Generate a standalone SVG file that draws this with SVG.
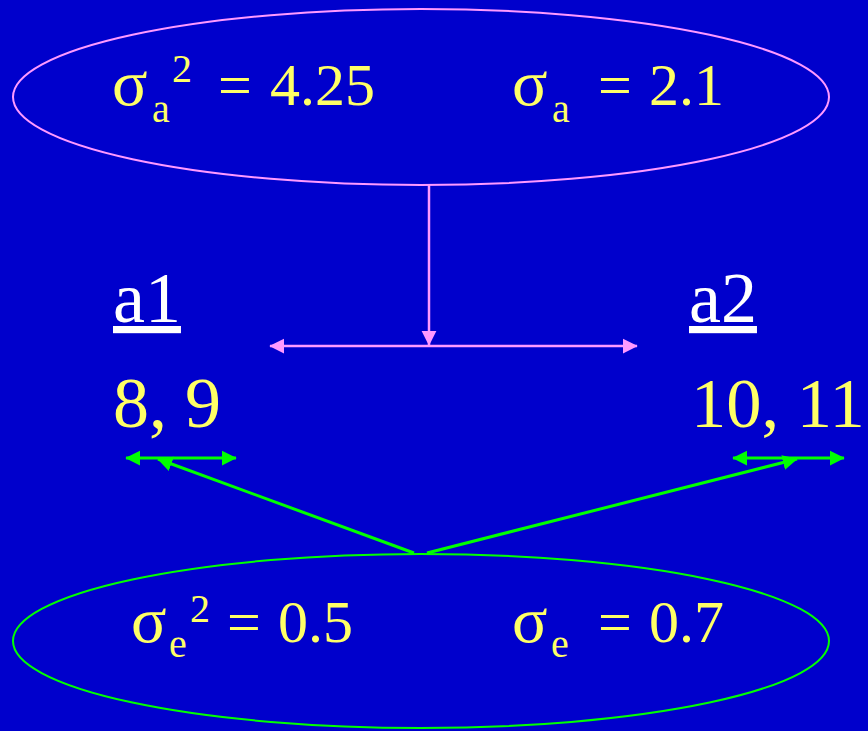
<svg xmlns="http://www.w3.org/2000/svg" width="868" height="731" viewBox="0 0 868 731">
<style>
  .t{font-family:"Liberation Serif","Times New Roman",serif;fill:#FFFF66;font-size:60px}
  .g{font-size:66px}
  .s{font-size:40px}
  .w{font-family:"Liberation Serif","Times New Roman",serif;fill:#FFFFFF;font-size:72px;text-decoration:underline}
  .v{font-family:"Liberation Serif","Times New Roman",serif;fill:#FFFF66;font-size:72px}
  .pink{stroke:#FF99FF;stroke-width:2.5;fill:none}
  .green{stroke:#00FF00;stroke-width:3;fill:none}
</style>
<defs>
  <marker id="ap" viewBox="0 0 10 10" refX="9.5" refY="5" markerUnits="userSpaceOnUse" markerWidth="15" markerHeight="16" orient="auto-start-reverse">
    <path d="M0,0 L10,5 L0,10 z" fill="#FF99FF"/>
  </marker>
  <marker id="ag" viewBox="0 0 10 10" refX="9.5" refY="5" markerUnits="userSpaceOnUse" markerWidth="15" markerHeight="16" orient="auto-start-reverse">
    <path d="M0,0 L10,5 L0,10 z" fill="#00FF00"/>
  </marker>
</defs>
<rect width="868" height="731" fill="#0000CC"/>

<g id="sigma-a">
  <ellipse cx="421" cy="97" rx="408" ry="88" fill="none" stroke="#FF99FF" stroke-width="2"/>
  <text class="t g" x="112" y="105">σ</text>
  <text class="t s" x="152" y="122">a</text>
  <text class="t s" x="172" y="82">2</text>
  <text class="t" x="218" y="105">=</text>
  <text class="t" x="270" y="105">4.25</text>
  <text class="t g" x="512" y="105">σ</text>
  <text class="t s" x="552" y="122">a</text>
  <text class="t" x="598" y="105">=</text>
  <text class="t" x="649" y="105">2.1</text>
</g>

<g id="a1">
  <text class="w" x="113" y="322">a1</text>
  <text class="v" x="113" y="427">8, 9</text>
</g>

<g id="a2">
  <text class="w" x="689" y="322">a2</text>
  <text class="v" x="691" y="427" style="font-size:70.5px">10, 11</text>
</g>

<g id="sigma-e">
  <ellipse cx="421" cy="641" rx="408" ry="87" fill="none" stroke="#00FF00" stroke-width="2"/>
  <text class="t g" x="131" y="642">σ</text>
  <text class="t s" x="169" y="657">e</text>
  <text class="t s" x="190" y="622">2</text>
  <text class="t" x="227" y="642">=</text>
  <text class="t" x="278" y="642">0.5</text>
  <text class="t g" x="512" y="642">σ</text>
  <text class="t s" x="551" y="657">e</text>
  <text class="t" x="598" y="642">=</text>
  <text class="t" x="649" y="642">0.7</text>
</g>

<g id="connectors">
  <line class="pink" x1="429" y1="185" x2="429" y2="345" marker-end="url(#ap)"/>
  <line class="pink" x1="270" y1="346" x2="637" y2="346" marker-start="url(#ap)" marker-end="url(#ap)"/>
  <line class="green" x1="126" y1="458" x2="236" y2="458" marker-start="url(#ag)" marker-end="url(#ag)"/>
  <line class="green" x1="733" y1="458" x2="844" y2="458" marker-start="url(#ag)" marker-end="url(#ag)"/>
  <line class="green" x1="414" y1="553" x2="158" y2="459" marker-end="url(#ag)"/>
  <line class="green" x1="427" y1="553" x2="797" y2="459" marker-end="url(#ag)"/>
</g>
</svg>
